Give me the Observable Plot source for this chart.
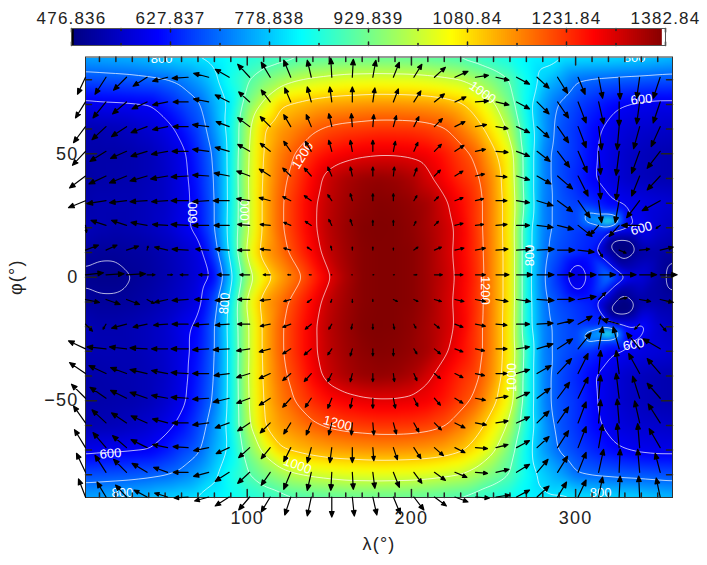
<!DOCTYPE html>
<html>
<head>
<meta charset="utf-8">
<script src="https://cdn.jsdelivr.net/npm/d3@7"></script>
<script src="https://cdn.jsdelivr.net/npm/@observablehq/plot@0.6"></script>
<style>
html,body{margin:0;padding:0;background:#fff;}
svg{display:block;}
svg text{letter-spacing:1.2px;}
.clab text{letter-spacing:0;}
</style>
</head>
<body>
<div id="bar"></div>
<div id="map"></div>
<script>
const gridLons = d3.range(0, 361, 10);
const gridLats = [90,80,70,60,50,40,30,20,10,0,-10,-20,-30,-40,-50,-60,-70,-80,-90];
const tempRows = [
[755,760,765,770,780,795,805,812,820,835,850,862,872,880,890,896,902,905,905,905,902,896,888,878,866,852,838,822,815,815,812,810,808,803,795,785,775],
[672,675,678,682,688,697,715,745,790,845,895,935,965,995,1010,1020,1028,1030,1032,1030,1028,1022,1012,1000,970,935,900,835,785,750,705,695,690,685,682,678,675],
[585,590,592,595,598,625,660,690,755,815,935,1015,1095,1110,1125,1135,1140,1145,1148,1148,1145,1140,1130,1110,1070,1010,930,830,745,695,665,640,615,600,590,585,585],
[530,530,535,545,560,580,615,665,735,830,975,1100,1140,1165,1192,1210,1220,1225,1230,1230,1228,1220,1205,1170,1125,1065,985,850,745,680,650,615,590,570,560,555,550],
[520,520,520,525,535,555,585,640,710,825,990,1105,1165,1205,1240,1265,1280,1290,1295,1295,1290,1280,1255,1220,1185,1115,1040,860,725,675,650,610,580,555,540,530,525],
[515,520,522,525,535,550,580,630,700,825,995,1110,1180,1225,1275,1320,1345,1360,1365,1360,1345,1310,1275,1240,1210,1145,1050,860,725,675,640,605,580,555,540,530,525],
[520,530,530,530,540,550,580,620,695,825,990,1115,1190,1240,1290,1330,1355,1370,1378,1375,1365,1350,1310,1270,1225,1150,1060,870,720,685,660,640,610,590,580,570,560],
[540,530,525,530,540,555,585,615,695,830,990,1115,1190,1240,1290,1335,1360,1378,1382,1380,1370,1350,1320,1285,1225,1150,1060,840,720,685,660,640,620,610,600,560,540],
[510,505,505,510,515,530,550,575,665,820,1015,1130,1175,1225,1275,1325,1355,1375,1380,1380,1375,1355,1320,1280,1230,1150,1065,840,715,670,650,630,520,470,515,520,510],
[495,490,490,500,510,525,545,570,610,780,960,1060,1130,1180,1235,1295,1345,1375,1380,1380,1375,1355,1325,1285,1235,1150,1065,840,705,640,565,610,720,620,575,520,480],
[510,505,505,510,520,535,555,580,670,820,1015,1130,1175,1225,1275,1325,1355,1375,1380,1380,1375,1355,1320,1280,1230,1150,1065,840,715,670,650,630,530,470,520,520,515],
[535,525,525,530,540,555,585,610,695,830,990,1115,1190,1240,1290,1335,1360,1378,1382,1380,1370,1350,1320,1285,1225,1150,1060,840,720,685,660,640,620,610,620,560,540],
[530,530,530,530,540,555,580,620,695,825,990,1115,1190,1240,1290,1330,1355,1370,1378,1375,1365,1350,1310,1270,1225,1150,1060,870,720,685,660,640,610,590,580,570,560],
[520,522,525,528,535,550,580,630,700,825,995,1110,1180,1225,1275,1320,1345,1360,1365,1360,1345,1310,1275,1240,1210,1145,1050,860,725,675,640,605,580,555,540,530,525],
[520,520,522,525,535,555,585,640,710,825,990,1105,1165,1205,1240,1265,1280,1290,1295,1295,1290,1280,1255,1220,1185,1115,1040,860,725,675,650,610,580,555,540,530,525],
[530,532,535,545,560,582,615,665,735,830,975,1100,1140,1165,1192,1210,1220,1225,1230,1230,1228,1220,1205,1170,1125,1065,985,850,745,680,650,615,590,570,560,555,550],
[585,590,592,596,600,625,660,690,755,815,935,1015,1095,1110,1125,1135,1140,1145,1148,1148,1145,1140,1130,1110,1070,1010,930,830,745,695,665,640,615,600,590,585,585],
[672,675,678,682,688,697,715,745,790,845,895,935,965,995,1010,1020,1028,1030,1032,1030,1028,1022,1012,1000,970,935,900,835,785,750,705,695,690,685,682,678,675],
[755,760,765,770,780,795,805,812,820,835,850,862,872,880,890,896,902,905,905,905,902,896,888,878,866,852,838,822,815,815,812,810,808,803,795,785,775]
];
// narrow warm spots and cold pockets near the cold side
const spotLons = [319.5,313,326,319.5,319.5, 319.5,313,326,319.5,319.5, 322,332,327, 322,332,327, 295,305,300,300];
const spotLats = [22.5,22.5,22.5,26,19, -22.5,-22.5,-22.5,-26,-19, 14,14,6, -14,-14,-6, 0,0,5,-5];
const spotTemps = [960,760,760,650,640, 960,760,760,650,640, 465,470,500, 465,470,500, 590,590,590,590];

const arrowLons = [1.5,14,26.5,39,51.5,64,76.5,89,101.5,114,126.5,139,151.5,164,176.5,189,201.5,214,226.5,239,251.5,264,276.5,289,301.5,314,326.5,339,351.5];
const arrowLats = [81,71,61,51,41,31,21,11,1,-9,-19,-29,-39,-49,-59,-69,-79,-89];
const windU = [
[-8,-11,-13,-14,-15,-16,-15,-14,-12,-9,-7,-4,-1,1,3,6,8,11,13,13,13,13,12,10,7,4,1,-3,-7],
[-10,-13,-14,-15,-15,-15,-15,-14,-11,-9,-6,-4,-2,0,2,5,7,10,11,13,13,13,12,11,8,5,0,-3,-7],
[-12,-14,-15,-16,-15,-15,-16,-13,-12,-10,-7,-5,-3,-1,1,3,5,8,10,11,12,13,12,11,8,3,-2,-6,-9],
[-13,-16,-16,-16,-16,-16,-16,-14,-12,-10,-7,-6,-3,-2,0,2,4,7,9,10,12,13,13,12,9,2,-3,-8,-13],
[-16,-17,-17,-17,-17,-17,-16,-15,-13,-11,-8,-7,-4,-2,0,1,3,6,8,9,11,13,14,15,10,2,-3,-8,-13],
[-17,-19,-17,-17,-16,-17,-16,-16,-13,-11,-8,-7,-4,-2,0,0,3,4,8,8,11,13,16,15,12,3,-4,-13,-18],
[1,-15,-15,-16,-15,-17,-16,-15,-12,-10,-7,-6,-3,-2,0,0,2,4,8,8,11,13,16,16,14,-8,-10,-18,-4],
[13,11,12,1,-13,-16,-13,-14,-12,-10,-7,-4,-1,0,0,0,4,7,9,10,12,14,17,17,16,4,7,10,13],
[18,18,19,8,5,-8,-10,-12,-10,-7,-3,-2,-0.5,-0.5,1,1,3,8,8,10,13,16,17,17,18,17,17,17,17],
[14,14,13,7,-13,-16,-14,-14,-12,-10,-7,-4,-1,0,0,4,4,7,9,10,12,14,17,17,18,7,8,11,13],
[7,-3,-15,-14,-14,-16,-15,-14,-12,-10,-8,-6,-3,-1,0,1,2,5,8,10,11,13,16,16,14,2,-17,-5,6],
[-17,-19,-17,-17,-16,-17,-16,-16,-13,-11,-8,-7,-4,-2,0,0,3,6,8,9,11,13,16,15,13,4,-6,-13,-17],
[-16,-17,-16,-17,-16,-17,-16,-15,-13,-11,-8,-7,-4,-2,0,1,3,6,8,9,11,13,14,14,10,2,-3,-11,-13],
[-14,-16,-16,-17,-16,-17,-16,-16,-13,-11,-8,-6,-4,-2,0,2,4,6,8,10,12,13,13,12,10,2,-3,-7,-13],
[-12,-14,-15,-16,-15,-16,-16,-14,-12,-10,-7,-5,-3,-1,1,3,5,7,10,11,12,13,12,11,8,2,-2,-5,-12],
[-11,-13,-14,-16,-15,-15,-15,-13,-11,-9,-7,-4,-2,0,1,4,7,9,10,12,12,13,12,11,8,4,-2,-2,-11],
[-9,-11,-13,-15,-14,-15,-15,-14,-12,-9,-7,-4,-1,1,2,6,8,11,12,12,13,13,11,10,8,5,1,-2,-5],
[-7,-9,-11,-13,-13,-14,-14,-14,-11,-9,-6,-4,0,2,4,7,10,12,13,14,14,13,12,9,8,4,1,-1,-4]
];
const windV = [
[-17,-17,-13,-9,-4,-1,4,8,13,15,17,17,19,18,17,15,13,10,6,2,-3,-7,-11,-16,-17,-21,-22,-21,-21],
[-16,-16,-12,-7,-3,0,3,7,10,12,14,15,15,15,14,13,11,8,5,1,-3,-7,-12,-16,-21,-22,-24,-22,-21],
[-16,-13,-10,-6,-3,0,2,5,9,10,12,12,13,13,12,11,10,8,5,2,-2,-6,-11,-16,-21,-23,-23,-22,-20],
[-14,-10,-7,-5,-3,0,2,4,7,8,10,10,11,11,11,10,9,7,6,2,-1,-5,-10,-16,-21,-23,-24,-22,-17],
[-12,-8,-7,-5,-3,-1,1,3,5,7,8,8,9,9,9,9,8,6,5,2,-1,-4,-8,-13,-20,-23,-24,-20,-14],
[-7,-3,-2,-1,-1,0,-1,0,2,3,4,5,6,7,7,7,5,4,3,2,0,-2,-5,-11,-17,-22,-22,-17,-10],
[-7,5,5,3,1,1,0,0,1,1,3,4,6,6,5,5,4,4,2,1,1,0,-2,-4,-11,-9,-11,0,-3],
[5,5,4,4,3,1,1,1,0,1,2,3,4,3,3,2,3,3,2,2,1,1,1,0,-2,-7,-3,1,3],
[2,1,1,0,0,0,0,0,0,0,0,0,0,0,0,0,0,0,0,0,0,0,0,0,0,0,0,0,0],
[-3,-5,-5,-4,-3,-1,0,-1,0,-1,-2,-3,-3,-3,-2,-2,-2,-2,-2,-2,-2,-2,-1,0,3,7,2,-2,-3],
[-7,-5,-4,-3,-1,0,-1,-1,0,-2,-3,-5,-5,-5,-5,-5,-4,-4,-3,-2,-1,0,1,4,8,8,5,-5,-7],
[8,2,2,1,0,0,-1,-1,-2,-3,-5,-6,-6,-7,-7,-7,-5,-5,-3,-2,0,2,5,10,16,22,22,16,10],
[11,8,6,4,3,1,0,-2,-4,-5,-7,-8,-8,-8,-8,-8,-7,-5,-4,-2,0,4,8,15,20,23,23,20,15],
[14,11,8,6,3,1,-1,-4,-5,-7,-9,-9,-10,-10,-10,-10,-8,-7,-5,-2,2,6,10,16,21,23,25,22,15],
[17,13,10,7,4,0,-2,-5,-8,-10,-11,-12,-12,-12,-12,-11,-9,-7,-5,-2,2,6,12,16,21,23,24,22,19],
[18,15,12,8,3,1,-3,-6,-10,-11,-14,-15,-15,-15,-13,-12,-11,-8,-5,-1,3,7,11,17,21,23,24,24,19],
[19,17,13,9,5,0,-4,-9,-11,-13,-17,-18,-18,-17,-16,-15,-11,-8,-5,-1,3,8,13,16,20,23,23,23,19],
[18,15,12,7,4,-1,-4,-9,-13,-15,-18,-19,-20,-19,-18,-17,-13,-9,-5,-1,2,7,11,15,17,20,21,21,19]
];
const contourLevels = [500,600,700,800,900,1000,1100,1200,1300];
const labelTexts = ["800","1200","600","1000","1000","600","800","600","800","800","1200","600","800","1200","1000","1000","600","800"];
const labelLons = [47.8,133.7,66.7,98.4,243.3,340.1,335.9,340.1,271.9,86.2,245.1,16.7,24,155,130.6,261,335.3,315.2];
const labelLats = [88.6,49.3,26.2,25.8,74.8,72,89,19.8,8.8,-10.6,-5.3,-71.4,-87.5,-59.2,-76.2,-40.6,-27.2,-87.5];
const labelAngles = [0,-58,-90,-90,35,-5,0,-15,-90,-85,90,-5,0,15,20,-90,-10,0];
const barTicks = [476.836,627.837,778.838,929.839,1080.84,1231.84,1382.84];
const barMinorTicks = [552.336,703.338,854.339,1005.34,1156.34,1307.34];
const xMajor = [100,200,300];
const xMinor = d3.range(10,360,10).filter(d => d % 100 !== 0);
const yMajor = [-50,0,50];
const yMinor = d3.range(-80,81,10).filter(d => d % 50 !== 0);

const colorScale = {type:"linear", domain:[476.836,608,826,1055,1273,1382.84],
  range:["#000080","#0000ff","#00ffff","#ffff00","#ff0000","#800000"], clamp:true};
const fontFamily = "'Liberation Sans', Arial, sans-serif";
const inkColor = "#222";

const tickShape = {draw(c,l){ c.moveTo(0,0); c.lineTo(0,-l); }};
const arrowShape = {draw(c,l){
  const h = Math.min(5.5, l*0.32), w = h*0.42;
  c.moveTo(0,0); c.lineTo(0,-l+h*0.6);
  c.moveTo(0,-l); c.lineTo(-w,-l+h); c.lineTo(w,-l+h); c.closePath();
}};

// colour bar
const barLevels = d3.range(476.836, 1382.84, 906/297);
const barSvg = Plot.plot({
  width:707, height:50, marginLeft:71, marginRight:42, marginTop:28, marginBottom:5,
  style:{fontFamily, color:inkColor, background:"transparent"},
  x:{domain:[476.836,1382.84]},
  color:colorScale,
  marks:[
    Plot.rectX(barLevels,{x1:d=>d, x2:d=>Math.min(d+3.6,1382.84), fill:d=>d}),
    Plot.rectX([0],{x1:476.836,x2:481,fill:"black"}),
    Plot.rectX([0],{x1:1378,x2:1382.84,fill:"white"}),
    Plot.vectorX(barTicks,{frameAnchor:"bottom",rotate:0,length:3.5,anchor:"start",shape:tickShape,stroke:"#222"}),
    Plot.vectorX(barTicks,{frameAnchor:"top",rotate:180,length:3.5,anchor:"start",shape:tickShape,stroke:"#222"}),
    Plot.vectorX(barMinorTicks,{frameAnchor:"bottom",rotate:0,length:2,anchor:"start",shape:tickShape,stroke:"#222"}),
    Plot.vectorX(barMinorTicks,{frameAnchor:"top",rotate:180,length:2,anchor:"start",shape:tickShape,stroke:"#222"}),
    Plot.frame({stroke:"#555"}),
    Plot.axisX({anchor:"top",ticks:barTicks,tickSize:0,tickPadding:5,fontSize:17,label:null,
      tickFormat:d=>d<1000?d.toFixed(3):d.toFixed(2)})
  ]
});
document.getElementById("bar").append(barSvg);

// main map
const tempPoints = gridLats.flatMap((lat,i)=>gridLons.map((lon,j)=>({lon,lat,t:tempRows[i][j]})))
  .concat(spotLons.map((lon,i)=>({lon,lat:spotLats[i],t:spotTemps[i]})));
const windPoints = arrowLats.flatMap((lat,i)=>arrowLons.map((lon,j)=>({lon,lat,u:windU[i][j],v:windV[i][j]})));
const labelPoints = labelTexts.map((text,i)=>({text,lon:labelLons[i],lat:labelLats[i],angle:labelAngles[i]}));

const mapSvg = Plot.plot({
  width:707, height:515, marginLeft:85, marginRight:35, marginTop:6.5, marginBottom:68,
  style:{fontFamily, color:inkColor, background:"transparent"},
  x:{domain:[1.5,359]},
  y:{domain:[-89.2,89.2]},
  color:colorScale,
  length:{type:"linear",domain:[0,30],range:[0,30]},
  marks:[
    Plot.raster(tempPoints,{x:"lon",y:"lat",fill:"t",interpolate:"barycentric",pixelSize:1,blur:3}),
    Plot.contour(tempPoints,{x:"lon",y:"lat",value:"t",thresholds:contourLevels,interpolate:"barycentric",
      pixelSize:1,blur:4,stroke:"white",strokeWidth:0.7,fill:"none",clip:true}),
    Plot.text(labelPoints,{x:"lon",y:"lat",text:"text",rotate:"angle",fill:"white",fontSize:13,clip:true,className:"clab"}),
    Plot.vectorX(xMajor,{frameAnchor:"bottom",rotate:0,length:8,anchor:"start",shape:tickShape,stroke:"#222"}),
    Plot.vectorX(xMajor,{frameAnchor:"top",rotate:180,length:8,anchor:"start",shape:tickShape,stroke:"#222"}),
    Plot.vectorX(xMinor,{frameAnchor:"bottom",rotate:0,length:4.5,anchor:"start",shape:tickShape,stroke:"#222"}),
    Plot.vectorX(xMinor,{frameAnchor:"top",rotate:180,length:4.5,anchor:"start",shape:tickShape,stroke:"#222"}),
    Plot.vectorY(yMajor,{frameAnchor:"left",rotate:90,length:11,anchor:"start",shape:tickShape,stroke:"#222"}),
    Plot.vectorY(yMajor,{frameAnchor:"right",rotate:270,length:11,anchor:"start",shape:tickShape,stroke:"#222"}),
    Plot.vectorY(yMinor,{frameAnchor:"left",rotate:90,length:6,anchor:"start",shape:tickShape,stroke:"#222"}),
    Plot.vectorY(yMinor,{frameAnchor:"right",rotate:270,length:6,anchor:"start",shape:tickShape,stroke:"#222"}),
    Plot.frame({stroke:"#333"}),
    Plot.vector(windPoints,{x:"lon",y:"lat",length:d=>Math.hypot(d.u,d.v),
      rotate:d=>Math.atan2(d.u,d.v)*180/Math.PI,anchor:"start",shape:arrowShape,
      stroke:"black",fill:"black",strokeWidth:1.2}),
    Plot.axisX({anchor:"bottom",ticks:xMajor,tickSize:0,tickPadding:14,fontSize:18,
      label:"λ(°)",labelAnchor:"center",labelArrow:"none",labelOffset:52}),
    Plot.axisY({anchor:"left",ticks:yMajor,tickSize:0,tickPadding:7,fontSize:18,
      tickFormat:d=>d<0?"−"+(-d):String(d),
      label:"φ(°)",labelAnchor:"center",labelArrow:"none",labelOffset:76})
  ]
});
document.getElementById("map").append(mapSvg);
</script>
</body>
</html>
